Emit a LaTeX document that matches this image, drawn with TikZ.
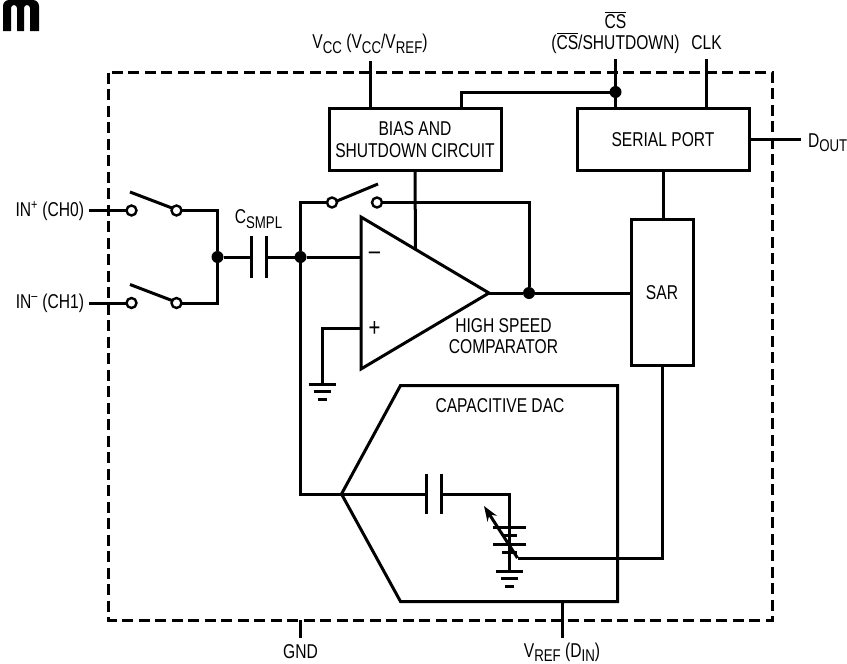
\documentclass[tikz,border=0pt]{standalone}
\usepackage{amsmath}
\usepackage{fontspec}
\setmainfont[FakeStretch=0.78]{Liberation Sans}
\usepackage{tikz}
\usetikzlibrary{arrows.meta}
\newcommand{\lowsub}[1]{\raisebox{-0.22em}{\fontsize{17}{19}\selectfont #1}}
\newcommand{\barcs}{\leavevmode\hbox{\vbox{\hrule height 1.1pt \kern 1.6pt\hbox{CS}}}}
\newcommand{\gndsym}[1]{%
  \draw[wire] (#1) ++(-13.5,0) -- ++(27,0);%
  \draw[wire] (#1) ++(-8.5,7.5) -- ++(17,0);%
  \draw[wire] (#1) ++(-4.5,15) -- ++(9,0);%
}
\newcommand{\swlever}[3]{%
  \node[term] (#1a) at (#2,#3) {};%
  \node[term] (#1b) at (#2+45,#3) {};%
}
\tikzset{
  wire/.style={line width=3pt},
  blockbox/.style={draw,line width=3pt,inner sep=0pt,outer sep=0pt,align=center},
  term/.style={circle,draw,fill=white,line width=2.4pt,minimum size=10pt,inner sep=0pt,outer sep=0pt},
  junc/.style={circle,fill=black,minimum size=12pt,inner sep=0pt,outer sep=0pt},
  lab/.style={inner sep=0pt,outer sep=0pt,font=\fontsize{20}{21.7}\selectfont,align=center},
}
\begin{document}
\begin{tikzpicture}[x=1pt,y=-1pt]
  \useasboundingbox (0,0) rectangle (847,664);
  % logo
  \fill (3,31) [rounded corners=6pt] -- (3,0) -- (39,0) [sharp corners] -- (39,31) -- (30,31) [rounded corners=3pt] -- (30,5) -- (24,5) [sharp corners] -- (24,31)
     -- (17,31) [rounded corners=3pt] -- (17,5) -- (11,5) [sharp corners] -- (11,31) -- cycle;
  % package outline
  \draw[line width=3pt,dash pattern=on 11pt off 5.5pt] (108.5,72.5) rectangle (772.5,620);
  % blocks
  \node[blockbox,minimum width=172pt,minimum height=62pt] (bias) at (415,139.5) {};
  \node[lab] (biastxt) at (415,139.5) {BIAS AND\\SHUTDOWN CIRCUIT};
  \node[blockbox,minimum width=172pt,minimum height=62pt] (port) at (663,139.5) {};
  \node[lab] (porttxt) at (663,140) {SERIAL PORT};
  \node[blockbox,minimum width=62pt,minimum height=146pt] (sar) at (662,292) {};
  \node[lab] (sartxt) at (662,293) {SAR};
  % comparator
  \coordinate (cmpa) at (361,217);
  \coordinate (cmpb) at (361,369);
  \coordinate (cmpout) at (489,293);
  \draw[wire,line join=miter] (cmpa) -- (cmpout) -- (cmpb) -- cycle;
  \coordinate (cmpm) at (361,257);
  \coordinate (cmpp) at (361,328);
  \node[lab,font=\fontsize{26}{28}\selectfont] (minus) at (374.5,255.5) {--};
  \node[lab,font=\fontsize{26}{28}\selectfont] (plus) at (374.5,329) {+};
  \node[lab] (cmptxt) at (503.5,336) {HIGH SPEED\\COMPARATOR};
  % pins on top
  \node[lab] (vcc) at (370,44) {V\lowsub{CC} (V\lowsub{CC}/V\lowsub{REF})};
  \node[lab] (cs) at (615.5,20.5) {\barcs};
  \node[lab] (csb) at (615.5,43) {(\barcs/SHUTDOWN)};
  \node[lab] (clk) at (706.5,43) {CLK};
  \coordinate (vcctop) at (370,61);
  \coordinate (cstop) at (615.5,59);
  \coordinate (clktop) at (706.5,59);
  \draw[wire] (vcctop) -- (vcctop |- bias.north);
  \draw[wire] (cstop) -- (cstop |- port.north);
  \draw[wire] (clktop) -- (clktop |- port.north);
  \node[junc] (csj) at (615.5,92) {};
  \coordinate (biastap) at (461.5,108.5);
  \draw[wire] (csj) -| (biastap);
  \node[lab,anchor=west] (dout) at (808,143) {D\lowsub{OUT}};
  \coordinate (doutend) at (801,139.5);
  \draw[wire] (port.east) -- (doutend);
  \draw[wire] (port.south) -- (port.south |- sar.north);
  % input switches
  \node[lab,anchor=east] (inp) at (84,211) {IN\textsuperscript{+} (CH0)};
  \node[lab,anchor=east] (inm) at (84,303) {IN\textsuperscript{--} (CH1)};
  \coordinate (inpend) at (89,210.5);
  \coordinate (inmend) at (89,303);
  \swlever{swp}{131.5}{210.5}
  \swlever{swm}{131.5}{303}
  \coordinate (swpl) at (130,192);
  \coordinate (swpr) at (172,208);
  \coordinate (swml) at (130,284.5);
  \coordinate (swmr) at (172,300.5);
  \draw[wire] (swpl) -- (swpr);
  \draw[wire] (swml) -- (swmr);
  \draw[wire] (inpend) -- (swpa);
  \draw[wire] (inmend) -- (swma);
  \node[junc] (inj) at (217.5,257) {};
  \draw[wire] (swpb) -| (inj);
  \draw[wire] (swmb) -| (inj);
  % sampling cap
  \node[lab] (csmpl) at (258.5,219) {C\lowsub{SMPL}};
  \node[junc] (cmpj) at (300.5,257) {};
  \coordinate (capl) at (251,257);
  \coordinate (capr) at (266,257);
  \draw[wire] (capl) ++(0,-21) -- ++(0,42);
  \draw[wire] (capr) ++(0,-21) -- ++(0,42);
  \draw[wire] (inj) -- (capl);
  \draw[wire] (capr) -- (cmpj);
  \draw[wire] (cmpj) -- (cmpm);
  % feedback switch
  \swlever{swf}{332}{202.5}
  \node[junc] (outj) at (529,293) {};
  \coordinate (swfl) at (337,201);
  \coordinate (swfr) at (378,184);
  \draw[wire] (swfl) -- (swfr);
  \draw[wire] (cmpj) |- (swfa);
  \draw[wire] (swfb) -| (outj);
  \draw[wire] (cmpout) -- (outj);
  \draw[wire] (outj) -- (outj -| sar.west);
  \coordinate (biasdown) at (415.5,249);
  \draw[wire] (bias.south) -- (biasdown);
  % plus input and ground
  \coordinate (gndcmp) at (322,384);
  \draw[wire] (cmpp) -| (gndcmp);
  \gndsym{gndcmp}
  % capacitive DAC
  \coordinate (dacin) at (341.5,494);
  \coordinate (dacb) at (400.5,385.5);
  \coordinate (dacc) at (617.5,385.5);
  \coordinate (dacd) at (617.5,601.5);
  \coordinate (dace) at (400.5,601.5);
  \draw[wire] (dacin) -- (dacb) -- (dacc) -- (dacd) -- (dace) -- cycle;
  \node[lab] (dactxt) at (500,406) {CAPACITIVE DAC};
  \draw[wire] (cmpj) |- (dacin);
  \coordinate (dacl) at (426,494);
  \coordinate (dacr) at (441,494);
  \draw[wire] (dacl) ++(0,-20) -- ++(0,40);
  \draw[wire] (dacr) ++(0,-20) -- ++(0,40);
  \draw[wire] (dacin) -- (dacl);
  \coordinate (gnddac) at (509.5,571);
  \draw[wire] (dacr) -| (gnddac);
  \gndsym{gnddac}
  % switched reference ladder
  \foreach \yy/\hw in {527/16.5,535.7/7.5,544/16.5,552.3/7.5}{
    \draw[wire] (509.5-\hw,\yy) -- (509.5+\hw,\yy);
  }
  \coordinate (sarend) at (517.5,558);
  \coordinate (sartip) at (484,506);
  \draw[wire] (sar.south) |- (sarend);
  \draw[wire,-{Stealth[length=15pt,width=11pt]}] (sarend) -- (sartip);
  % pins at the bottom
  \coordinate (gndpin) at (300.5,620);
  \coordinate (gndend) at (300.5,638);
  \draw[wire] (gndpin) -- (gndend);
  \node[lab] (gnd) at (300.5,652) {GND};
  \coordinate (vrefa) at (562.5,601.5);
  \coordinate (vrefb) at (562.5,638);
  \draw[wire] (vrefa) -- (vrefb);
  \node[lab] (vref) at (562,652) {V\lowsub{REF} (D\lowsub{IN})};
\end{tikzpicture}
\end{document}
